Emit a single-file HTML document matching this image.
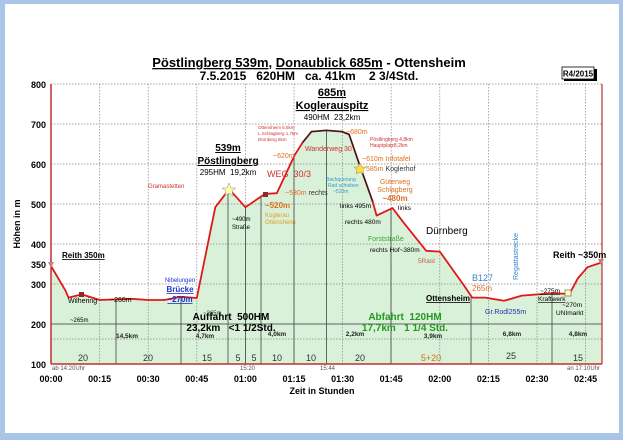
<!DOCTYPE html>
<html><head><meta charset="utf-8"><style>
html,body{margin:0;padding:0;background:#a9c6e8}
svg{display:block}
text{font-family:"Liberation Sans",Arial,sans-serif;white-space:pre}
</style></head><body>
<svg width="623" height="440" viewBox="0 0 623 440" xmlns="http://www.w3.org/2000/svg" xml:space="preserve">
<rect x="0" y="0" width="623" height="440" fill="#a9c6e8"/>
<rect x="5" y="4" width="614" height="429" fill="#ffffff"/>
<text x="309" y="67" font-size="13" font-weight="bold" text-anchor="middle"><tspan text-decoration="underline">Pöstlingberg 539m</tspan>, <tspan text-decoration="underline">Donaublick 685m</tspan> - Ottensheim</text>
<text x="309" y="80" font-size="12" font-weight="bold" text-anchor="middle">7.5.2015   620HM   ca. 41km    2 3/4Std.</text>
<rect x="564" y="69" width="33" height="12" fill="#000"/>
<rect x="562" y="67" width="32" height="12" fill="#fff" stroke="#000" stroke-width="0.8"/>
<text x="578" y="76.5" font-size="8" font-weight="bold" text-anchor="middle">R4/2015</text>

<polygon fill="#d9f1d9" points="51,364 51,266 65.6,290.8 68.5,297.6 81.8,294.4 99.6,300 131.4,298.8 148.2,300 164.4,300 180.6,296.8 196.8,298 215.3,207.2 229.2,189.2 245.4,207.2 264.8,194 276.8,193.2 294.6,155.2 302.7,142.4 311.5,131.6 326.4,130.4 341.9,131.6 349.1,134.4 356.5,156 360.4,167.2 372.7,201.6 376.6,215.6 392.5,208 402.2,220.8 426.2,250.8 439.8,251.6 464.1,285.6 472.2,297.6 485.2,297.6 504,300.8 521.8,295.6 553.2,293.2 569.4,294 577.8,278.4 587.5,267.2 601.8,262.4 602,364"/>

<g stroke="#888" stroke-width="0.7" stroke-dasharray="1.5,1.5">
<line x1="51" y1="84" x2="602" y2="84"/><line x1="51" y1="124" x2="602" y2="124"/>
<line x1="51" y1="164" x2="602" y2="164"/><line x1="51" y1="204" x2="602" y2="204"/>
<line x1="51" y1="244" x2="602" y2="244"/><line x1="51" y1="284" x2="602" y2="284"/>
<line x1="99.6" y1="84" x2="99.6" y2="364"/><line x1="148.2" y1="84" x2="148.2" y2="364"/>
<line x1="196.8" y1="84" x2="196.8" y2="364"/><line x1="245.4" y1="84" x2="245.4" y2="364"/>
<line x1="294" y1="84" x2="294" y2="364"/><line x1="342.6" y1="84" x2="342.6" y2="364"/>
<line x1="391.2" y1="84" x2="391.2" y2="364"/><line x1="439.8" y1="84" x2="439.8" y2="364"/>
<line x1="488.4" y1="84" x2="488.4" y2="364"/><line x1="537" y1="84" x2="537" y2="364"/>
<line x1="585.6" y1="84" x2="585.6" y2="364"/>
<line x1="51" y1="339" x2="602" y2="339"/>
</g>
<line x1="51" y1="324" x2="602" y2="324" stroke="#333" stroke-width="0.8"/>
<g stroke="#444" stroke-width="0.8">
<line x1="116" y1="300" x2="116" y2="364"/><line x1="181" y1="297" x2="181" y2="364"/>
<line x1="228" y1="190" x2="228" y2="364"/><line x1="245.4" y1="207" x2="245.4" y2="364"/>
<line x1="261" y1="196" x2="261" y2="364"/><line x1="294" y1="156" x2="294" y2="364"/>
<line x1="326.4" y1="130" x2="326.4" y2="364"/><line x1="391" y1="208" x2="391" y2="364"/>
<line x1="471" y1="297" x2="471" y2="364"/><line x1="552" y1="293" x2="552" y2="364"/>
</g>
<line x1="51" y1="84" x2="51" y2="364" stroke="#c03030" stroke-width="1.5"/>
<line x1="602" y1="84" x2="602" y2="364" stroke="#c03030" stroke-width="1.2"/>
<line x1="51" y1="364" x2="602" y2="364" stroke="#c03030" stroke-width="1.5"/>

<polyline fill="none" stroke="#e01818" stroke-width="1.8" stroke-linejoin="round" points="51,266 65.6,290.8 68.5,297.6 81.8,294.4 99.6,300 131.4,298.8 148.2,300 164.4,300 180.6,296.8 196.8,298 215.3,207.2 229.2,189.2 245.4,207.2 264.8,194 276.8,193.2 294.6,155.2 302.7,142.4 311.5,131.6 326.4,130.4 341.9,131.6 349.1,134.4 356.5,156 360.4,167.2 372.7,201.6 376.6,215.6 392.5,208 402.2,220.8 426.2,250.8 439.8,251.6 464.1,285.6 472.2,297.6 485.2,297.6 504,300.8 521.8,295.6 553.2,293.2 569.4,294 577.8,278.4 587.5,267.2 601.8,262.4"/>
<polyline fill="none" stroke="#222" stroke-width="1.3" points="302.7,142.4 311.5,131.6 326.4,130.4 341.9,131.6 349.1,134.4 356.5,156 360.4,167.2 372.7,201.6"/>

<g font-size="9" font-weight="bold" text-anchor="end">
<text x="46" y="88">800</text><text x="46" y="128">700</text><text x="46" y="168">600</text>
<text x="46" y="208">500</text><text x="46" y="248">400</text><text x="46" y="268">350</text>
<text x="46" y="288">300</text><text x="46" y="328">200</text><text x="46" y="368">100</text>
</g>
<text transform="translate(20,224) rotate(-90)" font-size="9" font-weight="bold" text-anchor="middle">Höhen in m</text>
<g font-size="9" font-weight="bold" text-anchor="middle">
<text x="51" y="382">00:00</text><text x="99.6" y="382">00:15</text><text x="148.2" y="382">00:30</text>
<text x="196.8" y="382">00:45</text><text x="245.4" y="382">01:00</text><text x="294" y="382">01:15</text>
<text x="342.6" y="382">01:30</text><text x="391.2" y="382">01:45</text><text x="439.8" y="382">02:00</text>
<text x="488.4" y="382">02:15</text><text x="537" y="382">02:30</text><text x="585.6" y="382">02:45</text>
<text x="322" y="394">Zeit in Stunden</text>
</g>
<g font-size="6" fill="#555">
<text x="52" y="370">ab 14:20Uhr</text><text x="240" y="370">15:20</text><text x="320" y="370">15:44</text><text x="567" y="370">an 17:10Uhr</text>
</g>
<g font-size="9" fill="#333" text-anchor="middle">
<text x="83" y="361">20</text><text x="148" y="361">20</text><text x="207" y="361">15</text>
<text x="238" y="361">5</text><text x="254" y="361">5</text><text x="277" y="361">10</text>
<text x="311" y="361">10</text><text x="360" y="361">20</text><text x="431" y="361" fill="#d07020">5+20</text>
<text x="511" y="359">25</text><text x="578" y="361">15</text>
</g>
<g font-size="6.5" font-weight="bold" fill="#222" text-anchor="middle">
<text x="127" y="338">14,5km</text><text x="205" y="338">4,7km</text><text x="277" y="336">4,0km</text>
<text x="355" y="336">2,2km</text><text x="433" y="338">3,9km</text><text x="512" y="336">6,8km</text><text x="578" y="336">4,8km</text>
</g>
<text x="231" y="320" font-size="10" font-weight="bold" text-anchor="middle">Auffahrt  500HM</text>
<text x="231" y="331" font-size="10" font-weight="bold" text-anchor="middle">23,2km   &lt;1 1/2Std.</text>
<text x="405" y="320" font-size="10" font-weight="bold" fill="#229922" text-anchor="middle">Abfahrt  120HM</text>
<text x="405" y="331" font-size="10" font-weight="bold" fill="#229922" text-anchor="middle">17,7km   1 1/4 Std.</text>
<text x="332" y="96" font-size="11" font-weight="bold" text-anchor="middle" text-decoration="underline">685m</text>
<text x="332" y="109" font-size="11" font-weight="bold" text-anchor="middle" text-decoration="underline">Koglerauspitz</text>
<text x="332" y="120" font-size="8" text-anchor="middle">490HM  23,2km</text>
<text x="228" y="151" font-size="10" font-weight="bold" text-anchor="middle" text-decoration="underline">539m</text>
<text x="228" y="164" font-size="10" font-weight="bold" text-anchor="middle" text-decoration="underline">Pöstlingberg</text>
<text x="228" y="175" font-size="8" text-anchor="middle">295HM  19,2km</text>
<text x="267" y="177" font-size="9" fill="#d03030">WEG  30/3</text>
<text x="62" y="258" font-size="8" font-weight="bold" text-decoration="underline">Reith 350m</text>
<text x="553" y="258" font-size="9" font-weight="bold">Reith ~350m</text>
<text x="426" y="234" font-size="10">Dürnberg</text>
<text x="426" y="301" font-size="8" font-weight="bold" text-decoration="underline">Ottensheim</text>
<text x="472" y="281" font-size="9" fill="#3388cc">B127</text>
<text x="472" y="291" font-size="8" fill="#e07020">265m</text>
<text x="485" y="314" font-size="7" fill="#2233aa">Gr.Rodl255m</text>
<text x="68" y="303" font-size="7">Wilhering</text>
<text x="70" y="322" font-size="6">~265m</text>
<text x="110" y="302" font-size="7">~260m</text>
<text x="203" y="315" font-size="6" fill="#333">~265m</text>
<text x="180" y="282" font-size="6" fill="#2233cc" text-anchor="middle">Nibelungen</text>
<text x="180" y="292" font-size="8" font-weight="bold" fill="#2233cc" text-anchor="middle" text-decoration="underline">Brücke</text>
<text x="180" y="302" font-size="8" font-weight="bold" fill="#2233cc" text-anchor="middle" text-decoration="underline">~270m</text>
<text x="148" y="188" font-size="6" fill="#d03030">Gramastetten</text>
<text x="232" y="221" font-size="6">~490m</text><text x="232" y="229" font-size="6">Straße</text>
<text x="265" y="208" font-size="8" font-weight="bold" fill="#e07020">~520m</text>
<text x="265" y="217" font-size="6" fill="#e0a020">Koglerau</text>
<text x="265" y="224" font-size="6" fill="#e0a020">Ottensheim</text>
<text x="285" y="195" font-size="7" fill="#e07020">~530m <tspan fill="#333">rechts</tspan></text>
<text x="273" y="158" font-size="7" fill="#e07020">~620m</text>
<text x="305" y="151" font-size="7" fill="#d03030">Wanderweg 30</text>
<text x="258" y="129" font-size="4.5" fill="#d03030">Ottensheim 6,5km</text>
<text x="258" y="135" font-size="4.5" fill="#d03030">L.Schlagberg 1,7km</text>
<text x="258" y="141" font-size="4.5" fill="#d03030">Dürnberg 5km</text>
<text x="346" y="134" font-size="7" fill="#e07020">~680m</text>
<text x="370" y="141" font-size="5" fill="#d03030">Pöstlingberg 4,8km</text>
<text x="370" y="147" font-size="5" fill="#d03030">Hauptplatz8,2km</text>
<text x="362" y="161" font-size="7" fill="#e07020">~610m Infotafel</text>
<text x="366" y="171" font-size="7" fill="#e07020">585m <tspan fill="#333">Koglerhof</tspan></text>
<text x="326" y="181" font-size="5" fill="#3399cc">Bachquerung</text>
<text x="328" y="187" font-size="5" fill="#3399cc">Rad schieben</text>
<text x="333" y="193" font-size="5" fill="#3399cc">~520m</text>
<text x="395" y="184" font-size="7" fill="#e07020" text-anchor="middle">Güterweg</text>
<text x="395" y="192" font-size="7" fill="#e07020" text-anchor="middle">Schlagberg</text>
<text x="395" y="201" font-size="8" font-weight="bold" fill="#e07020" text-anchor="middle">~480m</text>
<text x="340" y="208" font-size="6.5">links 495m</text>
<text x="398" y="210" font-size="6.5">links</text>
<text x="345" y="224" font-size="6.5">rechts 480m</text>
<text x="368" y="241" font-size="7" fill="#33aa33">Forststraße</text>
<text x="370" y="252" font-size="6.5">rechts Hof~380m</text>
<text x="418" y="263" font-size="6.5" fill="#c06040">5Rast</text>
<text x="518" y="280" transform="rotate(-90 518 280)" font-size="7" fill="#3388cc">Regattastrecke</text>
<text x="540" y="293" font-size="6.5" text-decoration="underline">~275m</text>
<text x="538" y="301" font-size="6.5" text-decoration="underline">Kraftwerk</text>
<text x="562" y="307" font-size="6.5">~270m</text>
<text x="556" y="315" font-size="6.5">UNImarkt</text>
<polygon points="229,183 231,188 236,188 232,191 233,196 229,193 225,196 226,191 222,188 227,188" fill="#ffffaa" stroke="#888" stroke-width="0.5"/>
<polygon points="360,163 362,167 366,167 363,170 364,174 360,172 356,174 357,170 354,167 358,167" fill="#ffdd33" stroke="#888" stroke-width="0.5"/>
<rect x="79" y="292" width="5" height="5" fill="#8b2b2b"/>
<rect x="263" y="192" width="5" height="5" fill="#8b2b2b"/>
<rect x="565" y="290" width="6" height="6" fill="#ffffcc" stroke="#886633" stroke-width="0.7"/>
<polygon points="48,262 54,262 51,268" fill="#c08080"/>
<polygon points="598,259 604,259 601,265" fill="#c08080"/>
</svg>
</body></html>
